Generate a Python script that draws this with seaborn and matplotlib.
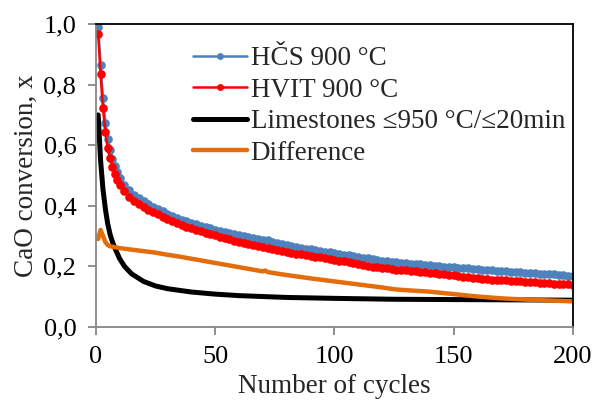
import matplotlib
matplotlib.use("Agg")
import matplotlib.pyplot as plt
import seaborn as sns

# ---------------- data ----------------
cycles_exp = [1, 2, 3, 4, 5, 6, 7, 8, 9, 10] + list(range(12, 201, 2))

hcs_900 = [0.990, 0.865, 0.755, 0.673, 0.620, 0.585, 0.555, 0.530, 0.510, 0.490,
           0.470, 0.452, 0.437, 0.425, 0.415, 0.405, 0.397, 0.389, 0.381, 0.373,
           0.366, 0.360, 0.354, 0.348, 0.342, 0.338, 0.334, 0.330, 0.325, 0.321,
           0.317, 0.313, 0.309, 0.306, 0.302, 0.299, 0.296, 0.293, 0.290, 0.287,
           0.286, 0.281, 0.277, 0.273, 0.270, 0.267, 0.264, 0.261, 0.258, 0.256,
           0.253, 0.251, 0.248, 0.246, 0.243, 0.241, 0.238, 0.236, 0.233, 0.231,
           0.228, 0.226, 0.223, 0.221, 0.219, 0.217, 0.215, 0.213, 0.211, 0.210,
           0.208, 0.207, 0.206, 0.204, 0.203, 0.202, 0.201, 0.199, 0.198, 0.197,
           0.195, 0.194, 0.193, 0.191, 0.190, 0.189, 0.188, 0.187, 0.185, 0.184,
           0.183, 0.182, 0.181, 0.180, 0.179, 0.178, 0.177, 0.176, 0.175, 0.174,
           0.173, 0.172, 0.170, 0.169, 0.168]

hvit_900 = [0.967, 0.835, 0.722, 0.645, 0.590, 0.557, 0.529, 0.505, 0.485, 0.468,
            0.447, 0.430, 0.416, 0.405, 0.395, 0.387, 0.379, 0.371, 0.363, 0.356,
            0.349, 0.343, 0.337, 0.331, 0.325, 0.320, 0.315, 0.311, 0.306, 0.302,
            0.297, 0.293, 0.289, 0.285, 0.281, 0.277, 0.274, 0.270, 0.267, 0.263,
            0.261, 0.257, 0.254, 0.251, 0.248, 0.245, 0.242, 0.239, 0.236, 0.234,
            0.231, 0.229, 0.226, 0.224, 0.221, 0.218, 0.216, 0.213, 0.210, 0.207,
            0.204, 0.201, 0.199, 0.197, 0.195, 0.193, 0.191, 0.189, 0.188, 0.187,
            0.185, 0.184, 0.182, 0.181, 0.179, 0.177, 0.175, 0.173, 0.172, 0.170,
            0.168, 0.166, 0.164, 0.162, 0.160, 0.159, 0.157, 0.156, 0.155, 0.154,
            0.153, 0.152, 0.151, 0.150, 0.149, 0.148, 0.147, 0.146, 0.145, 0.144,
            0.143, 0.142, 0.141, 0.140, 0.139]

cycles_lime = [1, 2, 3, 4, 5, 6, 7, 8, 10, 12, 15, 20, 25, 30, 40, 50, 60, 80,
               100, 125, 150, 175, 200]
limestones = [0.700, 0.550, 0.455, 0.390, 0.340, 0.305, 0.280, 0.260, 0.225,
              0.200, 0.175, 0.150, 0.135, 0.126, 0.115, 0.108, 0.103, 0.097,
              0.094, 0.091, 0.090, 0.089, 0.088]

cycles_diff = [1, 2, 3, 4, 5, 6, 8, 10, 15, 20, 25, 30, 35, 40, 45, 50, 55, 60,
               65, 70, 71, 72, 75, 80, 90, 100, 110, 120, 125, 130, 140, 150,
               160, 170, 180, 190, 200]
difference = [0.290, 0.320, 0.300, 0.280, 0.270, 0.266, 0.263, 0.260, 0.255,
              0.250, 0.245, 0.238, 0.232, 0.225, 0.218, 0.211, 0.204, 0.197,
              0.190, 0.183, 0.186, 0.181, 0.177, 0.171, 0.160, 0.150, 0.140,
              0.130, 0.124, 0.121, 0.116, 0.108, 0.100, 0.094, 0.090, 0.087,
              0.084]

x_ticks = [0, 50, 100, 150, 200]
x_tick_labels = ["0", "50", "100", "150", "200"]
y_ticks = [0.0, 0.2, 0.4, 0.6, 0.8, 1.0]
y_tick_labels = ["0,0", "0,2", "0,4", "0,6", "0,8", "1,0"]

labels = ["HČS 900 °C", "HVIT 900 °C", "Limestones ≤950 °C/≤20min", "Difference"]

# ---------------- style ----------------
sns.set_style("white")
plt.rcParams["font.family"] = ["Liberation Serif", "DejaVu Serif"]

fig = plt.figure(figsize=(5.95, 4.01), dpi=100)
ax = fig.add_axes([0.161, 0.185, 0.802, 0.755])

blue = "#4F81BD"
red = "#FF0000"
orange = "#E46C0A"

sns.lineplot(x=cycles_exp, y=hcs_900, ax=ax, color=blue, linewidth=1.8,
             marker="o", markersize=6.2, markeredgewidth=0, label=labels[0],
             sort=False)
sns.lineplot(x=cycles_exp, y=hvit_900, ax=ax, color=red, linewidth=1.8,
             marker="o", markersize=6.2, markeredgewidth=0, label=labels[1],
             sort=False)
sns.lineplot(x=cycles_lime, y=limestones, ax=ax, color="black", linewidth=3.6,
             label=labels[2], sort=False, solid_capstyle="round")
sns.lineplot(x=cycles_diff, y=difference, ax=ax, color=orange, linewidth=3.2,
             label=labels[3], sort=False, solid_capstyle="round")

ax.set_xlim(0, 200)
ax.set_ylim(0, 1.0)
ax.set_xticks(x_ticks)
ax.set_xticklabels(x_tick_labels)
ax.set_yticks(y_ticks)
ax.set_yticklabels(y_tick_labels)

grey = "#868686"
for s in ["left", "bottom"]:
    ax.spines[s].set_color(grey)
    ax.spines[s].set_linewidth(1.3)
for s in ["top", "right"]:
    ax.spines[s].set_color("black")
    ax.spines[s].set_linewidth(1.3)

ax.tick_params(axis="both", direction="out", length=6, width=1.3, color=grey,
               labelsize=19, labelcolor="black")
ax.tick_params(axis="x", bottom=True, pad=8)
ax.tick_params(axis="y", left=True, pad=8)

ax.set_xlabel("Number of cycles", fontsize=19.5, labelpad=4)
ax.set_ylabel("CaO conversion, x", fontsize=19.5, labelpad=3)

leg = ax.legend(loc="upper left", bbox_to_anchor=(0.18, 0.963), frameon=False,
                fontsize=19.5, handlelength=2.0, handletextpad=0.15,
                labelspacing=0.24, borderaxespad=0, markerscale=0.8)

fig.savefig("out.png", dpi=100)
